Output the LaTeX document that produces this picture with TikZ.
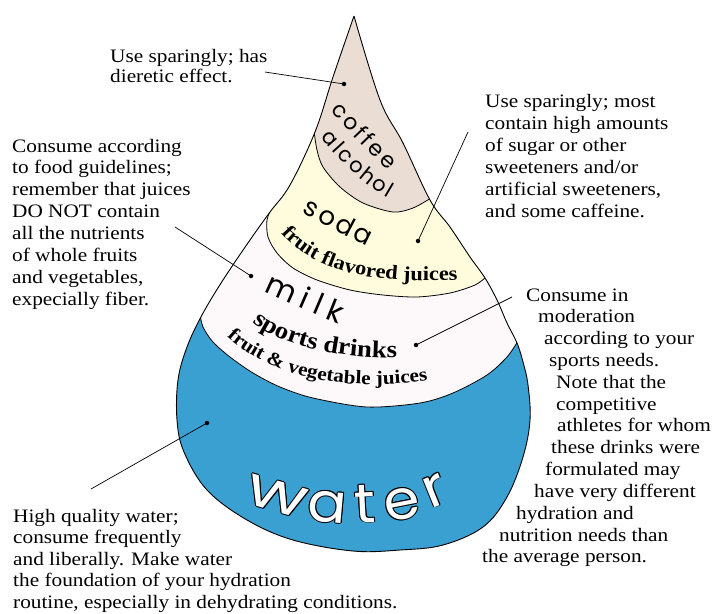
\documentclass[tikz,border=0pt]{standalone}
\usepackage{fontspec}
\setmainfont[FakeStretch=1.12]{Liberation Serif}
\newfontfamily\gfont{Poppins}
\usetikzlibrary{decorations.text}
\definecolor{coffeec}{RGB}{234,221,212}
\definecolor{sodac}{RGB}{254,252,220}
\definecolor{milkc}{RGB}{253,249,251}
\definecolor{waterc}{RGB}{58,160,210}
\newcommand\ocopy[3]{\rlap{\kern#1\raisebox{#2}{\color{black}#3}}}
\newcommand\olet[1]{\ocopy{0.8pt}{0pt}{#1}\ocopy{-0.8pt}{0pt}{#1}\ocopy{0pt}{0.8pt}{#1}\ocopy{0pt}{-0.8pt}{#1}\ocopy{0.57pt}{0.57pt}{#1}\ocopy{-0.57pt}{0.57pt}{#1}\ocopy{0.57pt}{-0.57pt}{#1}\ocopy{-0.57pt}{-0.57pt}{#1}{\color{white}#1}}
\begin{document}
\begin{tikzpicture}[x=1pt,y=-1pt,line join=round,
  note/.style={anchor=base west,inner sep=0pt,font=\fontsize{19}{21.8}\selectfont},
  lead/.style={line width=0.7pt},
  dotc/.style={circle,fill=black,inner sep=0pt,minimum size=4.5pt},
  bd/.style={line width=0.8pt},
  wl/.style={anchor=base,inner sep=0pt,font=\gfont\fontsize{55}{55}\selectfont},
  curved/.style={decorate,decoration={text along path,text align=center,text={#1}}}]
\useasboundingbox (0,0) rectangle (714,613);
\begin{scope}
\clip plot[smooth,tension=0.6] coordinates {(354,16) (380,100) (403,143) (430,200) (450,227) (470,257) (485,278) (497,300) (507,323) (517,343) (523,362) (528,385) (530,420) (523,457) (507,497) (483,527) (443,545) (400,550) (353,551) (293,540) (247,520) (207,490) (184,452) (177,420) (178,380) (187,347) (202,315) (223,280) (250,240) (270,212) (290,185) (315,132) (333,77) (354,16)};
\fill[waterc] (0,0) rectangle (714,613);
\fill[milkc] (0,314) -- plot[smooth] coordinates {(200,314) (203,327) (213,342) (230,357) (253,373) (280,387) (313,398) (367,407) (420,403) (453,393) (487,375) (507,357) (518,341)} -- (714,341) -- (714,0) -- (0,0) -- cycle;
\fill[sodac] (0,207) -- plot[smooth] coordinates {(272,207) (267,220) (268,237) (277,253) (293,268) (317,280) (350,290) (383,295) (417,297) (450,293) (475,285) (486,277)} -- (714,277) -- (714,0) -- (0,0) -- cycle;
\fill[coffeec] (0,131) -- plot[smooth] coordinates {(314,131) (317,150) (323,167) (340,187) (363,203) (393,212) (413,208) (431,198)} -- (714,198) -- (714,0) -- (0,0) -- cycle;
\draw[bd] plot[smooth] coordinates {(200,314) (203,327) (213,342) (230,357) (253,373) (280,387) (313,398) (367,407) (420,403) (453,393) (487,375) (507,357) (518,341)};
\draw[bd] plot[smooth] coordinates {(272,207) (267,220) (268,237) (277,253) (293,268) (317,280) (350,290) (383,295) (417,297) (450,293) (475,285) (486,277)};
\draw[bd] plot[smooth] coordinates {(314,131) (317,150) (323,167) (340,187) (363,203) (393,212) (413,208) (431,198)};
\end{scope}
\draw[line width=0.9pt] plot[smooth,tension=0.6] coordinates {(354,16) (380,100) (403,143) (430,200) (450,227) (470,257) (485,278) (497,300) (507,323) (517,343) (523,362) (528,385) (530,420) (523,457) (507,497) (483,527) (443,545) (400,550) (353,551) (293,540) (247,520) (207,490) (184,452) (177,420) (178,380) (187,347) (202,315) (223,280) (250,240) (270,212) (290,185) (315,132) (333,77) (354,16)};
% curved labels
\path[curved={|\gfont\fontsize{22}{22}\selectfont|c{\kern3pt}o{\kern3pt}f{\kern3pt}f{\kern3pt}e{\kern3pt}e}] (331,111) .. controls (350,133) and (368,152) .. (388,170);
\path[curved={|\gfont\fontsize{21}{21}\selectfont|a{\kern2.2pt}l{\kern2.2pt}c{\kern2.2pt}o{\kern2.2pt}h{\kern2.2pt}o{\kern2.2pt}l}] (321,138) .. controls (340,160) and (360,182) .. (388,198);
\path[curved={|\gfont\fontsize{26}{26}\selectfont|s{\kern3pt}o{\kern3pt}d{\kern3pt}a}] (303,213) .. controls (324,224) and (345,236) .. (366,246);
\path[curved={|\gfont\fontsize{30}{30}\selectfont|m{\kern7pt}i{\kern7pt}l{\kern7pt}k}] (258,289) .. controls (287,302) and (315,315) .. (344,326);
\path[curved={|\bfseries\fontsize{20}{20}\selectfont|fruit flavored juices}] (278,230) .. controls (310,268) and (360,285) .. (462,280);
\path[curved={|\bfseries\fontsize{24}{24}\selectfont|sports drinks}] (250,320) .. controls (280,345) and (330,358) .. (400,358);
\path[curved={|\bfseries\fontsize{19}{20}\selectfont|fruit {\&} vegetable juices}] (223,333) .. controls (260,370) and (330,395) .. (433,380);
% water
\node[wl,rotate=-16,xscale=1.35] (w1) at (273,511) {\olet{w}};
\node[wl,rotate=-5,xscale=1.05] (w2) at (326,522) {\olet{a}};
\node[wl,rotate=3,xscale=1.05] (w3) at (366,522.5) {\olet{t}};
\node[wl,rotate=11,xscale=1.05] (w4) at (405,519) {\olet{e}};
\node[wl,rotate=22,xscale=1.1] (w5) at (441,505) {\olet{r}};
% notes
\node[note] (nA) at (110,62) {\vtop{\baselineskip=20.6pt\hbox{Use sparingly; has}\hbox{dieretic effect.}}};
\node[note] (nB) at (12,152) {\vtop{\baselineskip=21.9pt\hbox{Consume according}\hbox{to food guidelines;}\hbox{remember that juices}\hbox{DO NOT contain}\hbox{all the nutrients}\hbox{of whole fruits}\hbox{and vegetables,}\hbox{expecially fiber.}}};
\node[note] (nC) at (485,107) {\vtop{\baselineskip=22pt\hbox{Use sparingly; most}\hbox{contain high amounts}\hbox{of sugar or other}\hbox{sweeteners and/or}\hbox{artificial sweeteners,}\hbox{and some caffeine.}}};
\node[note] (nD) at (482,301) {\vtop{\baselineskip=21.83pt
 \moveright44pt\hbox{Consume in}
 \moveright56pt\hbox{moderation}
 \moveright62pt\hbox{according to your}
 \moveright67pt\hbox{sports needs.}
 \moveright74pt\hbox{Note that the}
 \moveright74pt\hbox{competitive}
 \moveright75pt\hbox{athletes for whom}
 \moveright69pt\hbox{these drinks were}
 \moveright63pt\hbox{formulated may}
 \moveright52pt\hbox{have very different}
 \moveright34pt\hbox{hydration and}
 \moveright17pt\hbox{nutrition needs than}
 \hbox{the average person.}}};
\node[note] (nE) at (13,522) {\vtop{\baselineskip=21.5pt\hbox{High quality water;}\hbox{consume frequently}\hbox{and liberally. Make water}\hbox{the foundation of your hydration}\hbox{routine, especially in dehydrating conditions.}}};
% connectors
\coordinate (c1) at (265,72);
\node[dotc] (d1) at (344,84) {};
\coordinate (c2) at (175,227);
\node[dotc] (d2) at (251,276) {};
\coordinate (c3) at (468,132);
\node[dotc] (d3) at (418,241) {};
\coordinate (c4) at (512,297);
\node[dotc] (d4) at (416,345) {};
\coordinate (c5) at (91,489);
\node[dotc] (d5) at (207,423) {};
\draw[lead] (c1) -- (d1.center);
\draw[lead] (c2) -- (d2.center);
\draw[lead] (c3) -- (d3.center);
\draw[lead] (c4) -- (d4.center);
\draw[lead] (c5) -- (d5.center);
\end{tikzpicture}
\end{document}
